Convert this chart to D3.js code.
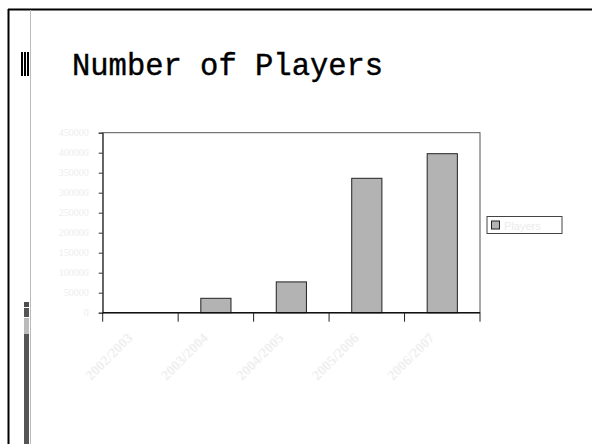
<!DOCTYPE html>
<html>
<head>
<meta charset="utf-8">
<script src="https://cdn.jsdelivr.net/npm/d3@7"></script>
<style>
  body { margin: 0; background: #fff; }
  svg { display: block; }
</style>
</head>
<body>
<svg id="chart" width="592" height="444"></svg>
<script>
// categories and values
var categories = ["2002/2003", "2003/2004", "2004/2005", "2005/2006", "2006/2007"];
var players = [0, 36000, 77000, 336000, 397500];
var yTicks = [0, 50000, 100000, 150000, 200000, 250000, 300000, 350000, 400000, 450000];
var seriesName = "Players";

var svg = d3.select("#chart");

// slide frame
svg.append("rect").attr("x", 0).attr("y", 0).attr("width", 592).attr("height", 444).attr("fill", "#fff");
svg.append("line").attr("x1", 8).attr("x2", 592).attr("y1", 9.5).attr("y2", 9.5)
    .attr("stroke", "#000").attr("stroke-width", 2);
svg.append("line").attr("x1", 8.5).attr("x2", 8.5).attr("y1", 9).attr("y2", 444)
    .attr("stroke", "#000").attr("stroke-width", 2);
svg.append("line").attr("x1", 30.5).attr("x2", 30.5).attr("y1", 10).attr("y2", 444)
    .attr("stroke", "#bbb").attr("stroke-width", 1);

// bullet marker beside title
[21, 24, 27].forEach(function(x) {
    svg.append("rect").attr("x", x).attr("y", 52).attr("width", 2).attr("height", 24).attr("fill", "#000");
});

// bars on the left edge
svg.append("rect").attr("x", 24).attr("y", 302).attr("width", 5).attr("height", 5).attr("fill", "#4d4d4d");
svg.append("rect").attr("x", 24).attr("y", 308).attr("width", 5).attr("height", 9).attr("fill", "#555");
svg.append("rect").attr("x", 24).attr("y", 318).attr("width", 5).attr("height", 16).attr("fill", "#bbb");
svg.append("rect").attr("x", 24).attr("y", 334).attr("width", 5).attr("height", 110).attr("fill", "#555");

svg.append("text")
    .attr("x", 72).attr("y", 75)
    .attr("font-family", "Liberation Mono, monospace")
    .attr("font-size", 30.5)
    .attr("stroke", "#000").attr("stroke-width", 0.4)
    .attr("fill", "#000")
    .text("Number of Players");

var plotL = 102.7, plotR = 480, plotT = 132.7, plotB = 312.7;

var xScale = d3.scaleBand().domain(categories).range([plotL, plotR]).padding(0);
var yScale = d3.scaleLinear().domain([0, 450000]).range([plotB, plotT]);

// plot frame
svg.append("rect")
    .attr("x", plotL).attr("y", plotT)
    .attr("width", plotR - plotL).attr("height", plotB - plotT)
    .attr("fill", "none").attr("stroke", "#555").attr("stroke-width", 1);

// bars
var barW = xScale.bandwidth() * 0.4;
svg.selectAll(".bar")
    .data(players)
    .enter().append("rect")
    .attr("class", "bar")
    .attr("x", function(d, i) { return xScale(categories[i]) + (xScale.bandwidth() - barW) / 2; })
    .attr("y", function(d) { return yScale(d); })
    .attr("width", barW)
    .attr("height", function(d) { return plotB - yScale(d); })
    .attr("fill", "#b3b3b3")
    .attr("stroke", "#222")
    .attr("stroke-width", 1);

// y axis
var yAxis = svg.append("g")
    .attr("transform", "translate(" + plotL + ",0)")
    .call(d3.axisLeft(yScale).tickValues(yTicks).tickSize(4).tickPadding(10).tickFormat(function(d) { return d; }));
yAxis.select(".domain").attr("stroke", "#333");
yAxis.selectAll(".tick line").attr("stroke", "#333");
yAxis.selectAll("text")
    .attr("fill", "#ededed")
    .attr("font-family", "Liberation Serif, serif")
    .attr("font-size", 10);

// x axis, ticks at band edges
var edges = categories.map(function(c) { return xScale(c); }).concat([plotR]);
var xAxis = svg.append("g").attr("transform", "translate(0," + plotB + ")");
xAxis.append("line").attr("x1", plotL).attr("x2", plotR).attr("y1", 0).attr("y2", 0)
    .attr("stroke", "#111").attr("stroke-width", 1.5);
xAxis.selectAll(".tk")
    .data(edges)
    .enter().append("line")
    .attr("x1", function(d) { return d; }).attr("x2", function(d) { return d; })
    .attr("y1", 0).attr("y2", 9)
    .attr("stroke", "#222");
xAxis.selectAll(".lbl")
    .data(categories)
    .enter().append("text")
    .attr("transform", function(d) {
        return "translate(" + (xScale(d) + xScale.bandwidth() / 2 - 7) + ",26) rotate(-45)";
    })
    .attr("text-anchor", "end")
    .attr("fill", "#efefef")
    .attr("font-family", "Liberation Serif, serif")
    .attr("font-weight", "bold")
    .attr("font-size", 14)
    .text(function(d) { return d; });

// legend
var lg = svg.append("g").attr("transform", "translate(487,216.5)");
lg.append("rect").attr("x", 0).attr("y", 0).attr("width", 75).attr("height", 17)
    .attr("fill", "#fff").attr("stroke", "#444");
lg.append("rect").attr("x", 4.5).attr("y", 4.5).attr("width", 8).attr("height", 8)
    .attr("fill", "#b3b3b3").attr("stroke", "#222");
lg.append("text").attr("x", 17).attr("y", 13)
    .attr("fill", "#ebebeb")
    .attr("font-family", "Liberation Sans, sans-serif")
    .attr("font-size", 11)
    .text(seriesName);
</script>
</body>
</html>
